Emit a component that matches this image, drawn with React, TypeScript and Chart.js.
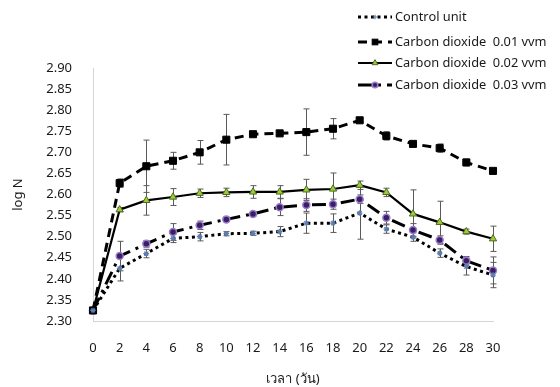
import React, { useEffect, useRef } from "react";
import { Chart, registerables } from "chart.js";

Chart.register(...registerables);

const days = ["0", "2", "4", "6", "8", "10", "12", "14", "16", "18", "20", "22", "24", "26", "28", "30"];

const controlUnit = [2.325, 2.425, 2.46, 2.496, 2.5, 2.507, 2.508, 2.512, 2.532, 2.532, 2.556, 2.518, 2.499, 2.461, 2.429, 2.409];
const controlErr = [0, 0.03, 0.01, 0.01, 0.01, 0.005, 0.005, 0.012, 0.024, 0.022, 0.062, 0.01, 0.01, 0.01, 0.02, 0.03];

const co2_001 = [2.325, 2.627, 2.667, 2.68, 2.7, 2.73, 2.743, 2.745, 2.748, 2.756, 2.776, 2.739, 2.72, 2.71, 2.676, 2.656];
const co2_001Err = [0, 0.01, 0.062, 0.02, 0.028, 0.06, 0.003, 0.003, 0.055, 0.024, 0.005, 0.01, 0.004, 0.01, 0.008, 0.004];

const co2_002 = [2.325, 2.564, 2.586, 2.594, 2.603, 2.605, 2.606, 2.606, 2.611, 2.613, 2.622, 2.605, 2.554, 2.534, 2.512, 2.495];
const co2_002Err = [0, 0.005, 0.035, 0.02, 0.01, 0.01, 0.015, 0.015, 0.025, 0.038, 0.01, 0.01, 0.057, 0.05, 0.006, 0.03];

const co2_003 = [2.325, 2.454, 2.483, 2.511, 2.527, 2.541, 2.554, 2.57, 2.575, 2.577, 2.589, 2.545, 2.516, 2.492, 2.443, 2.42];
const co2_003Err = [0, 0.035, 0.008, 0.02, 0.01, 0.005, 0.005, 0.02, 0.015, 0.012, 0.01, 0.015, 0.015, 0.01, 0.01, 0.032];

const seriesNames = ["Control unit", "Carbon dioxide  0.01 vvm", "Carbon dioxide  0.02 vvm", "Carbon dioxide  0.03 vvm"];

const yTitle = "log N";
const xTitle = "เวลา (วัน)";

const FONT = "'Noto Sans', 'Open Sans', sans-serif";

const errorBarPlugin = {
  id: "errorBars",
  beforeDatasetsDraw(chart: any) {
    const ctx = chart.ctx;
    const y = chart.scales.y;
    ctx.save();
    ctx.strokeStyle = "#5a5a5a";
    ctx.lineWidth = 1;
    chart.data.datasets.forEach((ds: any, i: number) => {
      const meta = chart.getDatasetMeta(i);
      const errs = ds.errors as number[];
      meta.data.forEach((pt: any, j: number) => {
        const e = errs[j];
        if (!e) return;
        const v = ds.data[j];
        const px = Math.round(pt.x) + 0.5;
        const top = y.getPixelForValue(v + e);
        const bot = y.getPixelForValue(v - e);
        ctx.beginPath();
        ctx.moveTo(px, top);
        ctx.lineTo(px, bot);
        ctx.moveTo(px - 3, top);
        ctx.lineTo(px + 3, top);
        ctx.moveTo(px - 3, bot);
        ctx.lineTo(px + 3, bot);
        ctx.stroke();
      });
    });
    ctx.restore();
  },
};

const legendPlugin = {
  id: "customLegend",
  afterDraw(chart: any) {
    const ctx = chart.ctx;
    const rows = [17, 42, 63, 85];
    ctx.save();
    chart.data.datasets.forEach((ds: any, i: number) => {
      const yy = rows[i];
      ctx.save();
      ctx.strokeStyle = ds.borderColor;
      ctx.lineWidth = ds.borderWidth;
      ctx.setLineDash(ds.borderDash || []);
      ctx.beginPath();
      ctx.moveTo(358, yy);
      ctx.lineTo(392, yy);
      ctx.stroke();
      ctx.restore();
      ctx.save();
      ctx.fillStyle = ds.pointBackgroundColor;
      ctx.strokeStyle = ds.pointBorderColor;
      ctx.lineWidth = ds.pointBorderWidth;
      const r = ds.pointRadius * 0.8;
      if (ds.pointStyle === "rect") {
        const s = r * Math.SQRT1_2;
        ctx.fillRect(375 - s, yy - s, 2 * s, 2 * s);
        ctx.strokeRect(375 - s, yy - s, 2 * s, 2 * s);
      } else if (ds.pointStyle === "triangle") {
        ctx.beginPath();
        ctx.moveTo(375, yy - r);
        ctx.lineTo(375 + r * 0.866, yy + r * 0.5);
        ctx.lineTo(375 - r * 0.866, yy + r * 0.5);
        ctx.closePath();
        ctx.fill();
        ctx.stroke();
      } else if (ds.pointStyle === "circle") {
        ctx.beginPath();
        ctx.arc(375, yy, r, 0, Math.PI * 2);
        ctx.fill();
        ctx.stroke();
      } else {
        ctx.beginPath();
        ctx.moveTo(375 - r, yy);
        ctx.lineTo(375 + r, yy);
        ctx.moveTo(375, yy - r);
        ctx.lineTo(375, yy + r);
        ctx.stroke();
      }
      ctx.restore();
      ctx.fillStyle = "#1a1a1a";
      ctx.font = `12.8px ${FONT}`;
      ctx.textBaseline = "middle";
      ctx.textAlign = "left";
      ctx.fillText(ds.label, 395, yy);
    });
    ctx.restore();
  },
};

export default function App() {
  const ref = useRef<HTMLCanvasElement>(null);
  useEffect(() => {
    if (!ref.current) return;
    const chart = new Chart(ref.current, {
      type: "line",
      data: {
        labels: days,
        datasets: [
          {
            label: seriesNames[0],
            data: controlUnit,
            errors: controlErr,
            borderColor: "#000000",
            borderWidth: 3,
            borderDash: [3, 3.5],
            pointStyle: "star",
            pointRadius: 2.8,
            pointBorderWidth: 1.2,
            pointBackgroundColor: "#7f9cc8",
            pointBorderColor: "#5d7db0",
            tension: 0,
          } as any,
          {
            label: seriesNames[1],
            data: co2_001,
            errors: co2_001Err,
            borderColor: "#000000",
            borderWidth: 3,
            borderDash: [9, 6],
            pointStyle: "rect",
            pointRadius: 5,
            pointBorderWidth: 1,
            pointBackgroundColor: "#000000",
            pointBorderColor: "#000000",
            tension: 0,
          } as any,
          {
            label: seriesNames[2],
            data: co2_002,
            errors: co2_002Err,
            borderColor: "#000000",
            borderWidth: 2.2,
            pointStyle: "triangle",
            pointRadius: 4.2,
            pointBorderWidth: 1,
            pointBackgroundColor: "#9ccc3c",
            pointBorderColor: "#4f6b1a",
            tension: 0,
          } as any,
          {
            label: seriesNames[3],
            data: co2_003,
            errors: co2_003Err,
            borderColor: "#000000",
            borderWidth: 3,
            borderDash: [14, 6, 3, 6],
            pointStyle: "circle",
            pointRadius: 3.5,
            pointBorderWidth: 1.5,
            pointBackgroundColor: "#3a1f63",
            pointBorderColor: "#9a7cd0",
            tension: 0,
          } as any,
        ],
      },
      options: {
        animation: false,
        responsive: false,
        layout: { padding: { top: 68, right: 67, left: 0, bottom: 0 } },
        plugins: { legend: { display: false }, tooltip: { enabled: false } },
        scales: {
          x: {
            type: "category",
            offset: false,
            grid: { display: false, drawTicks: false },
            border: { display: true, color: "#d4d4d4", width: 1 },
            ticks: { color: "#1a1a1a", font: { family: FONT, size: 13 }, padding: 19, maxRotation: 0, autoSkip: false },
            title: { display: true, text: xTitle, color: "#1a1a1a", font: { family: FONT, size: 13 }, padding: { top: 0, bottom: 0 } },
            afterFit(scale: any) {
              scale.height = 66;
            },
          },
          y: {
            min: 2.3,
            max: 2.9,
            grid: { display: false, drawTicks: false },
            border: { display: true, color: "#d4d4d4", width: 1 },
            ticks: {
              stepSize: 0.05,
              color: "#1a1a1a",
              font: { family: FONT, size: 13 },
              padding: 21,
              callback: (v: any) => Number(v).toFixed(2),
            },
            title: { display: true, text: yTitle, color: "#1a1a1a", font: { family: FONT, size: 13 }, padding: { top: 10, bottom: 0 } },
            afterFit(scale: any) {
              scale.width = 93;
            },
          },
        },
      } as any,
      plugins: [errorBarPlugin, legendPlugin],
    });
    return () => chart.destroy();
  }, []);
  return (
    <div style={{ position: "fixed", left: 0, top: 0, width: 560, height: 387, background: "#ffffff" }}>
      <canvas ref={ref} width={560} height={387} />
    </div>
  );
}
